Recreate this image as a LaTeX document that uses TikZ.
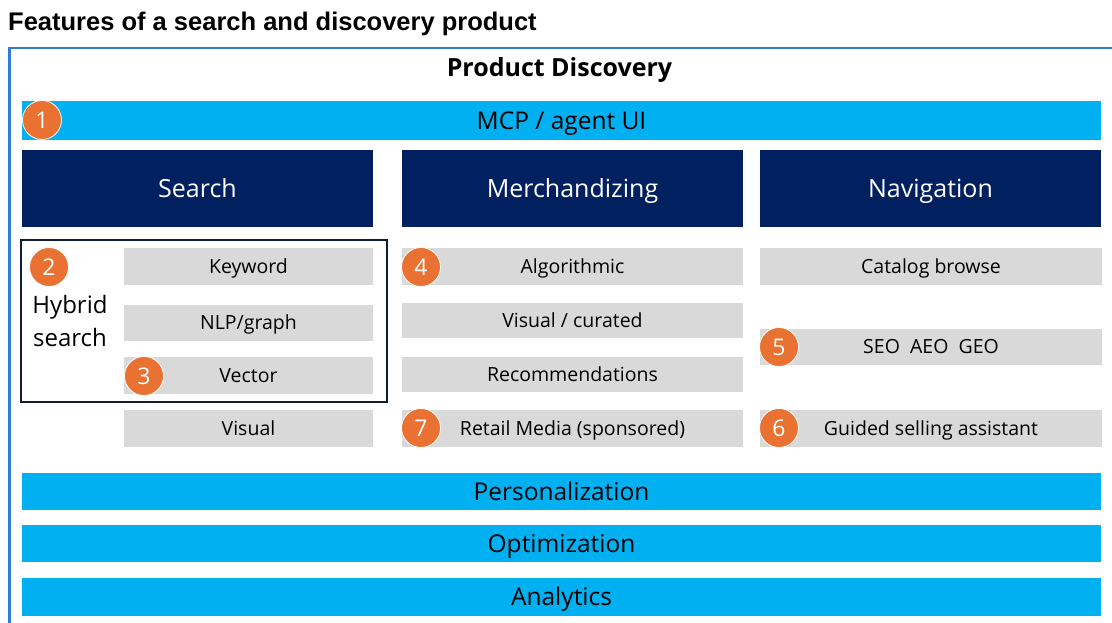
\documentclass[tikz,border=0pt]{standalone}
\usepackage{fontspec}
\setmainfont{Open Sans}
\newfontfamily\titlefont{Liberation Sans}
\definecolor{frameblue}{RGB}{46,125,210}
\definecolor{cyanbar}{RGB}{0,176,240}
\definecolor{navyhead}{RGB}{0,32,96}
\definecolor{greycell}{RGB}{217,217,217}
\definecolor{dotorange}{RGB}{233,113,50}
\definecolor{groupline}{RGB}{14,30,55}
\tikzset{
  widebar/.style={fill=cyanbar, inner sep=0pt, outer sep=0pt,
    minimum width=1079pt, minimum height=38pt,
    font=\fontsize{24.5}{28}\selectfont, text height=17.5pt, text depth=0pt},
  headbox/.style={fill=navyhead, text=white, inner sep=0pt, outer sep=0pt,
    minimum height=77pt,
    font=\fontsize{25}{29}\selectfont, text height=17.9pt, text depth=0pt},
  cell/.style={fill=greycell, inner sep=0pt, outer sep=0pt,
    minimum height=37pt,
    font=\fontsize{19.5}{23}\selectfont, text height=13.9pt, text depth=0pt},
  numdot/.style={circle, fill=dotorange, draw=white, line width=0.8pt,
    minimum size=39pt, inner sep=0pt, text=white,
    font=\fontsize{23}{27}\selectfont, text height=16.4pt, text depth=0pt},
}
\begin{document}
\begin{tikzpicture}[x=1pt, y=-1pt]
\useasboundingbox (0,0) rectangle (1112,623);

% heading above the frame
\node[anchor=base west, inner sep=0pt, font=\titlefont\bfseries\fontsize{25.5}{29}\selectfont]
  (heading) at (8,31) {Features of a search and discovery product};

% open frame (continues past the right and bottom edges)
\draw[frameblue, line width=2.2pt] (9.5,623) -- (9.5,48) -- (1112,48);

\node[anchor=base, inner sep=0pt, font=\bfseries\fontsize{25}{29}\selectfont]
  (frametitle) at (559.5,77) {Product Discovery};

% full-width layers
\node[widebar, minimum height=39pt] (mcp) at (561.5,120.5) {MCP / agent UI};
\node[widebar, minimum height=37pt] (pers) at (561.5,491.5) {Personalization};
\node[widebar, minimum height=37pt] (opt) at (561.5,543.5) {Optimization};
\node[widebar, minimum height=38pt] (ana) at (561.5,597) {Analytics};

% column headers
\node[headbox, minimum width=351pt] (search) at (197.5,188.5) {Search};
\node[headbox, minimum width=341pt] (merch) at (572.5,188.5) {Merchandizing};
\node[headbox, minimum width=341pt] (nav) at (930.5,188.5) {Navigation};

% hybrid search group
\node[draw=groupline, line width=1.6pt, inner sep=0pt, outer sep=0pt,
  minimum width=366pt, minimum height=162pt] (hybridbox) at (204,321) {};
\node[align=center, inner sep=0pt, font=\fontsize{24}{33}\selectfont]
  (hybridlabel) at (70,321) {Hybrid\\search};

% search cells
\node[cell, minimum width=249pt] (keyword) at (248.5,266.5) {Keyword};
\node[cell, minimum width=249pt, minimum height=36pt] (nlp) at (248.5,323) {NLP/graph};
\node[cell, minimum width=249pt] (vector) at (248.5,375.5) {Vector};
\node[cell, minimum width=249pt] (visual) at (248.5,428.5) {Visual};

% merchandizing cells
\node[cell, minimum width=341pt] (algo) at (572.5,266.5) {Algorithmic};
\node[cell, minimum width=341pt, minimum height=35pt] (curated) at (572.5,320.5) {Visual / curated};
\node[cell, minimum width=341pt, minimum height=35pt] (recs) at (572.5,374.5) {Recommendations};
\node[cell, minimum width=341pt] (retail) at (572.5,428.5) {Retail Media (sponsored)};

% navigation cells
\node[cell, minimum width=342pt] (catalog) at (931,266.5) {Catalog browse};
\node[cell, minimum width=342pt, minimum height=36pt] (seo) at (931,347) {SEO\ \ AEO\ \ GEO};
\node[cell, minimum width=342pt] (guided) at (931,428.5) {Guided selling assistant};

% numbered markers
\node[numdot] (n1) at (42,120) {1};
\node[numdot] (n2) at (49,267) {2};
\node[numdot] (n3) at (144,376) {3};
\node[numdot] (n4) at (421,267) {4};
\node[numdot] (n5) at (779,347) {5};
\node[numdot] (n6) at (779,428) {6};
\node[numdot] (n7) at (421,428) {7};
\end{tikzpicture}
\end{document}
